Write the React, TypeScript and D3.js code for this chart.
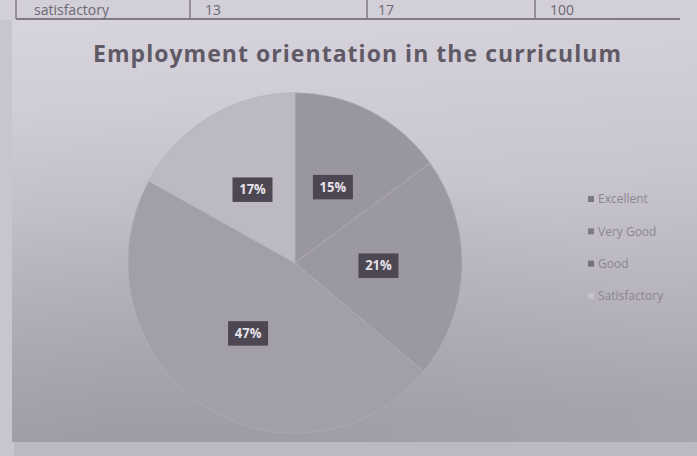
import { useEffect, useRef } from "react";
import * as d3 from "d3";

// table row fragment visible at the top of the photo
const tableCells = ["satisfactory", "13", "17", "100"];

const categories = ["Excellent", "Very Good", "Good", "Satisfactory"];
const shares = [15, 21, 47, 17];
const sliceColors = ["#9a96a0", "#9c98a2", "#a39fa9", "#bdb9c3"];
const legendMarks = ["#7d7983", "#7f7b85", "#77737d", "#c4c0ca"];

const title = "Employment orientation in the curriculum";

export default function App() {
  const svgRef = useRef<SVGSVGElement | null>(null);

  useEffect(() => {
    if (!svgRef.current) return;
    const svg = d3.select(svgRef.current);
    svg.selectAll("*").remove();

    const w = 697;
    const h = 456;
    const font = "Open Sans, DejaVu Sans, sans-serif";

    const defs = svg.append("defs");
    const bg = defs
      .append("linearGradient")
      .attr("id", "paper")
      .attr("x1", "0%")
      .attr("y1", "0%")
      .attr("x2", "10%")
      .attr("y2", "100%");
    bg.append("stop").attr("offset", "0%").attr("stop-color", "#d8d4de");
    bg.append("stop").attr("offset", "45%").attr("stop-color", "#c9c5cf");
    bg.append("stop").attr("offset", "100%").attr("stop-color", "#a8a4af");

    const shade = defs
      .append("radialGradient")
      .attr("id", "shade")
      .attr("cx", "20%")
      .attr("cy", "100%")
      .attr("r", "80%");
    shade.append("stop").attr("offset", "0%").attr("stop-color", "#8d8995").attr("stop-opacity", 0.35);
    shade.append("stop").attr("offset", "100%").attr("stop-color", "#8d8995").attr("stop-opacity", 0);

    // page behind the chart
    svg.append("rect").attr("width", w).attr("height", h).attr("fill", "#bdb9c4");
    svg.append("rect").attr("width", 14).attr("height", h).attr("fill", "#c9c5cf");

    // chart area
    svg.append("rect").attr("x", 12).attr("y", 20).attr("width", w - 12).attr("height", 422).attr("fill", "url(#paper)");
    svg.append("rect").attr("x", 12).attr("y", 20).attr("width", w - 12).attr("height", 422).attr("fill", "url(#shade)");
    svg.append("rect").attr("x", 0).attr("y", 0).attr("width", w).attr("height", 20).attr("fill", "#d3cfd8");

    // table row at the top
    const cellLeft = [34, 205, 378, 550];
    const dividers = [190, 367, 535];
    svg.append("line").attr("x1", 16).attr("x2", 680).attr("y1", 19).attr("y2", 19).attr("stroke", "#7f7a86").attr("stroke-width", 2);
    svg.append("line").attr("x1", 16).attr("x2", 16).attr("y1", 0).attr("y2", 19).attr("stroke", "#7f7a86").attr("stroke-width", 1.5);
    dividers.forEach((x) =>
      svg.append("line").attr("x1", x).attr("x2", x).attr("y1", 0).attr("y2", 19).attr("stroke", "#7f7a86").attr("stroke-width", 1.5)
    );
    svg
      .selectAll("text.cell")
      .data(tableCells)
      .join("text")
      .attr("class", "cell")
      .attr("x", (_, i) => cellLeft[i])
      .attr("y", 15)
      .attr("font-family", font)
      .attr("font-size", 14)
      .attr("fill", "#6d6873")
      .text((d) => d);

    // title
    svg
      .append("text")
      .attr("x", 357)
      .attr("y", 62)
      .attr("text-anchor", "middle")
      .attr("font-family", font)
      .attr("font-weight", "bold")
      .attr("font-size", 23)
      .attr("textLength", 528)
      .attr("fill", "#5f5a65")
      .text(title);

    // pie
    const cx = 295;
    const cy = 263;
    const r = 167;
    const pie = d3.pie<number>().sort(null).value((d) => d);
    const arcs = pie(shares);
    const arc = d3.arc<d3.PieArcDatum<number>>().innerRadius(0).outerRadius(r);
    const g = svg.append("g").attr("transform", `translate(${cx},${cy}) scale(1,1.02)`);

    g.selectAll("path.slice")
      .data(arcs)
      .join("path")
      .attr("class", "slice")
      .attr("d", arc)
      .attr("fill", (_, i) => sliceColors[i])
      .attr("stroke", "#b3afb9")
      .attr("stroke-width", 0.6);

    const labels = g
      .selectAll("g.lbl")
      .data(arcs)
      .join("g")
      .attr("class", "lbl")
      .attr("transform", (d) => {
        const [x, y] = arc.centroid(d);
        return `translate(${x},${y})`;
      });
    labels
      .append("rect")
      .attr("x", -20)
      .attr("y", -12)
      .attr("width", 40)
      .attr("height", 24)
      .attr("fill", "#4c4752");
    labels
      .append("text")
      .attr("text-anchor", "middle")
      .attr("dy", "0.36em")
      .attr("font-family", font)
      .attr("font-weight", "bold")
      .attr("font-size", 13)
      .attr("fill", "#e6e2ea")
      .text((d) => `${d.data}%`);

    // legend
    const ly = d3.scaleLinear().domain([0, categories.length - 1]).range([199, 296]);
    const legend = svg
      .selectAll("g.leg")
      .data(categories)
      .join("g")
      .attr("class", "leg")
      .attr("transform", (_, i) => `translate(588,${ly(i)})`);
    legend
      .append("rect")
      .attr("x", 0)
      .attr("y", -3)
      .attr("width", 6)
      .attr("height", 6)
      .attr("fill", (_, i) => legendMarks[i]);
    legend
      .append("text")
      .attr("x", 10)
      .attr("dy", "0.35em")
      .attr("font-family", font)
      .attr("font-size", 12)
      .attr("fill", "#8a8590")
      .text((d) => d);
  }, []);

  return (
    <div style={{ position: "absolute", left: 0, top: 0 }}>
      <svg ref={svgRef} width={697} height={456} style={{ display: "block" }} />
    </div>
  );
}
